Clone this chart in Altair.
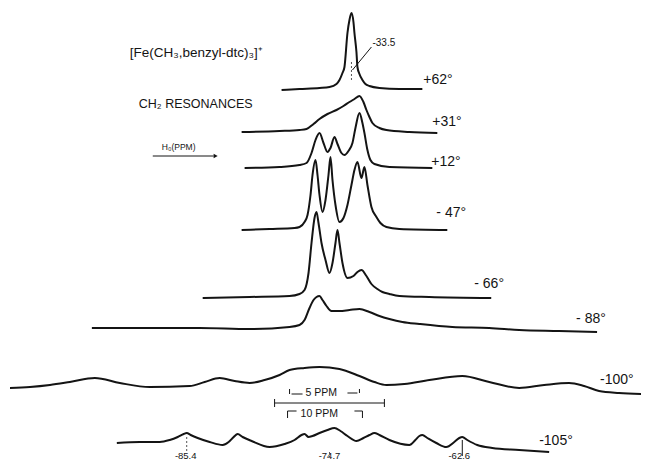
import altair as alt
import pandas as pd

# ---- frame (chart units: x to the right, h upward) ----
X_DOMAIN = [8, 642]
H_DOMAIN = [8, 463]

# ---- spectra: temperature label, baseline height, x positions, intensities ----
temps = ["+62°", "+31°", "+12°", "- 47°", "- 66°", "- 88°", "-100°", "-105°"]
baselines = [381, 339, 303, 241, 173, 143, 83, 26]

t62_x = [282, 300, 320, 330, 337, 340, 343, 345, 348, 350, 352, 354, 355, 357, 358, 360, 363, 366, 370, 380, 400, 423]
t62_i = [0, 1, 2, 3, 6, 10, 17, 23, 57, 70, 77, 68, 57, 38, 23, 16, 10, 6, 4, 2, 1, 1]

t31_x = [242, 280, 300, 307, 314, 320, 328, 337, 344, 350, 355, 360, 364, 367, 370, 373, 380, 387, 410, 438]
t31_i = [0, 1, 2, 3, 8, 13, 18, 22, 26, 30, 33, 36, 30, 22, 15, 9, 4, 2, 0, -1]

t12_x = [245, 280, 300, 307, 312, 316, 320, 324, 328, 331, 335, 338, 342, 345, 349, 353, 356, 360, 363, 365, 368, 371, 375, 390, 433]
t12_i = [0, 1, 3, 5, 15, 28, 35, 25, 16, 20, 31, 24, 15, 13, 17, 25, 40, 55, 45, 35, 18, 8, 4, 1, 0]

tm47_x = [242, 270, 295, 300, 305, 308, 311, 313, 316, 318, 320, 323, 326, 329, 331, 333, 336, 340, 344, 348, 352, 355, 358, 362, 365, 368, 372, 377, 381, 387, 400, 448]
tm47_i = [0, 1, 2, 3, 8, 15, 35, 55, 70, 55, 35, 18, 30, 55, 73, 50, 25, 8, 12, 25, 45, 60, 68, 52, 63, 45, 23, 13, 7, 3, 1, 0]

tm66_x = [203, 250, 290, 300, 305, 309, 312, 315, 317, 319, 322, 326, 330, 333, 336, 338, 340, 343, 348, 354, 358, 362, 367, 372, 378, 383, 390, 400, 430, 492]
tm66_i = [0, 1, 2, 4, 8, 25, 55, 80, 86, 75, 55, 38, 25, 35, 55, 68, 55, 35, 20, 22, 26, 28, 22, 14, 9, 6, 4, 2, 1, 0]

tm88_x = [92, 150, 200, 250, 290, 300, 305, 310, 314, 317, 320, 323, 327, 332, 340, 350, 360, 370, 380, 390, 403, 420, 453, 490, 520, 560, 598]
tm88_i = [0, 0, 0, -1, 1, 3, 8, 20, 28, 31, 32, 28, 22, 17, 17, 18, 19, 16, 12, 9, 6, 4, 1, 0, -2, -3, -4]

tm100_x = [10, 30, 50, 70, 95, 120, 150, 190, 205, 220, 235, 250, 265, 280, 290, 305, 320, 340, 360, 375, 387, 405, 430, 463, 490, 520, 545, 570, 585, 600, 620, 642]
tm100_i = [0, 1, 3, 6, 10, 5, 1, 2, 6, 10, 7, 5, 8, 13, 18, 20, 21, 19, 12, 6, 3, 4, 8, 12, 6, 0, 3, 5, 2, -3, -5, -6]

tm105_x = [117, 140, 160, 170, 178, 184, 187, 191, 198, 210, 223, 229, 234, 238, 243, 252, 270, 285, 295, 302, 305, 309, 313, 320, 328, 335, 341, 348, 357, 364, 370, 375, 380, 390, 410, 416, 420, 423, 428, 437, 447, 455, 460, 463, 468, 478, 493, 520, 550]
tm105_i = [2, 3, 3, 5, 8, 11, 12, 10, 7, 3, 0, 3, 8, 11, 8, 4, -2, 1, 5, 10, 11, 8, 9, 12, 15, 17, 14, 9, 4, 7, 10, 12, 10, 5, 0, 5, 9, 10, 7, 2, -2, 3, 7, 8, 5, 0, -3, -5, -7]

trace_x = [t62_x, t31_x, t12_x, tm47_x, tm66_x, tm88_x, tm100_x, tm105_x]
trace_i = [t62_i, t31_i, t12_i, tm47_i, tm66_i, tm88_i, tm100_i, tm105_i]

# temperature label anchors (left edge, centre height)
temp_lx = [424, 433, 432, 437, 475, 577, 601, 540]
temp_lh = [391, 349, 309, 258, 187, 152, 91, 30]

# ---- annotation texts ----
ann_text = ["[Fe(CH₃,benzyl-dtc)₃]⁺", "CH₂ RESONANCES", "H₀(PPM)", "-33.5",
            "5 PPM", "10 PPM", "-85.4", "-74.7", "-62.6"]
ann_x = [130, 139, 162, 373, 306, 301, 186, 330, 460]
ann_h = [418, 367, 324, 428, 78, 57, 10, 10, 10]
ann_size = [13.5, 12.5, 8.5, 10, 10.5, 10.5, 9.5, 9.5, 9.5]
ann_align = ["left", "left", "left", "left", "left", "left", "center", "center", "center"]
ann_base = ["middle"] * 6 + ["bottom"] * 3

# solid rules: x, x2, h, h2
rule_x = [153, 353, 275, 275, 385, 290, 292, 348, 360, 288, 288, 355, 363, 463]
rule_x2 = [214, 372, 385, 275, 385, 290, 303, 358, 360, 297, 288, 363, 363, 463]
rule_h = [315, 401, 68, 64, 64, 82, 77, 78, 82, 60, 60, 60, 60, 31]
rule_h2 = [315, 424, 68, 72, 72, 77, 77, 78, 78, 60, 53, 60, 53, 15]

# dotted markers
dot_x = [352, 187, 330]
dot_h = [409, 34, 19]
dot_h2 = [391, 19, 14]

# arrow head
arrow_x = [216]
arrow_h = [315]

# ---- tables ----
rows = []
for t, base, xs, ys in zip(temps, baselines, trace_x, trace_i):
    for xv, iv in zip(xs, ys):
        rows.append({"trace": t, "x": xv, "h": base + iv})
spec = pd.DataFrame(rows)

labels = pd.DataFrame({"text": temps, "x": temp_lx, "h": temp_lh})
ann = pd.DataFrame({"text": ann_text, "x": ann_x, "h": ann_h, "fs": ann_size,
                    "align": ann_align, "base": ann_base})
rules = pd.DataFrame({"x": rule_x, "x2": rule_x2, "h": rule_h, "h2": rule_h2})
dots = pd.DataFrame({"x": dot_x, "h": dot_h, "h2": dot_h2})
arrow = pd.DataFrame({"x": arrow_x, "h": arrow_h})

INK = "#141414"
FONT = "Liberation Sans"

X = alt.X("x:Q", scale=alt.Scale(domain=X_DOMAIN, nice=False, zero=False), axis=None)
Y = alt.Y("h:Q", scale=alt.Scale(domain=H_DOMAIN, nice=False, zero=False), axis=None)

lines = alt.Chart(spec).mark_line(
    interpolate="monotone", strokeWidth=2, color=INK, strokeJoin="round"
).encode(x=X, y=Y, detail="trace:N", order="x:Q")

temp_text = alt.Chart(labels).mark_text(
    align="left", baseline="middle", fontSize=14, font=FONT, color=INK
).encode(x=X, y=Y, text="text:N")

layers = [lines, temp_text]
for (al, bl), sub in ann.groupby(["align", "base"]):
    layers.append(
        alt.Chart(sub).mark_text(align=al, baseline=bl, font=FONT, color=INK).encode(
            x=X, y=Y, text="text:N", size=alt.Size("fs:Q", scale=None, legend=None)
        )
    )

rule_layer = alt.Chart(rules).mark_rule(color=INK, strokeWidth=1).encode(
    x=X, x2="x2:Q", y=Y, y2="h2:Q"
)
dot_layer = alt.Chart(dots).mark_rule(color="#555555", strokeWidth=1, strokeDash=[2, 2]).encode(
    x=X, y=Y, y2="h2:Q"
)
arrow_layer = alt.Chart(arrow).mark_point(
    shape="triangle-right", filled=True, size=22, color=INK, opacity=1
).encode(x=X, y=Y)

chart = alt.layer(*layers, rule_layer, dot_layer, arrow_layer).properties(
    width=634, height=455,
    autosize=alt.AutoSizeParams(type="fit", contains="padding"),
    padding=0,
    background="white",
).configure_view(stroke=None)

chart.save("out.html", embed_options={"renderer": "svg", "actions": False})
